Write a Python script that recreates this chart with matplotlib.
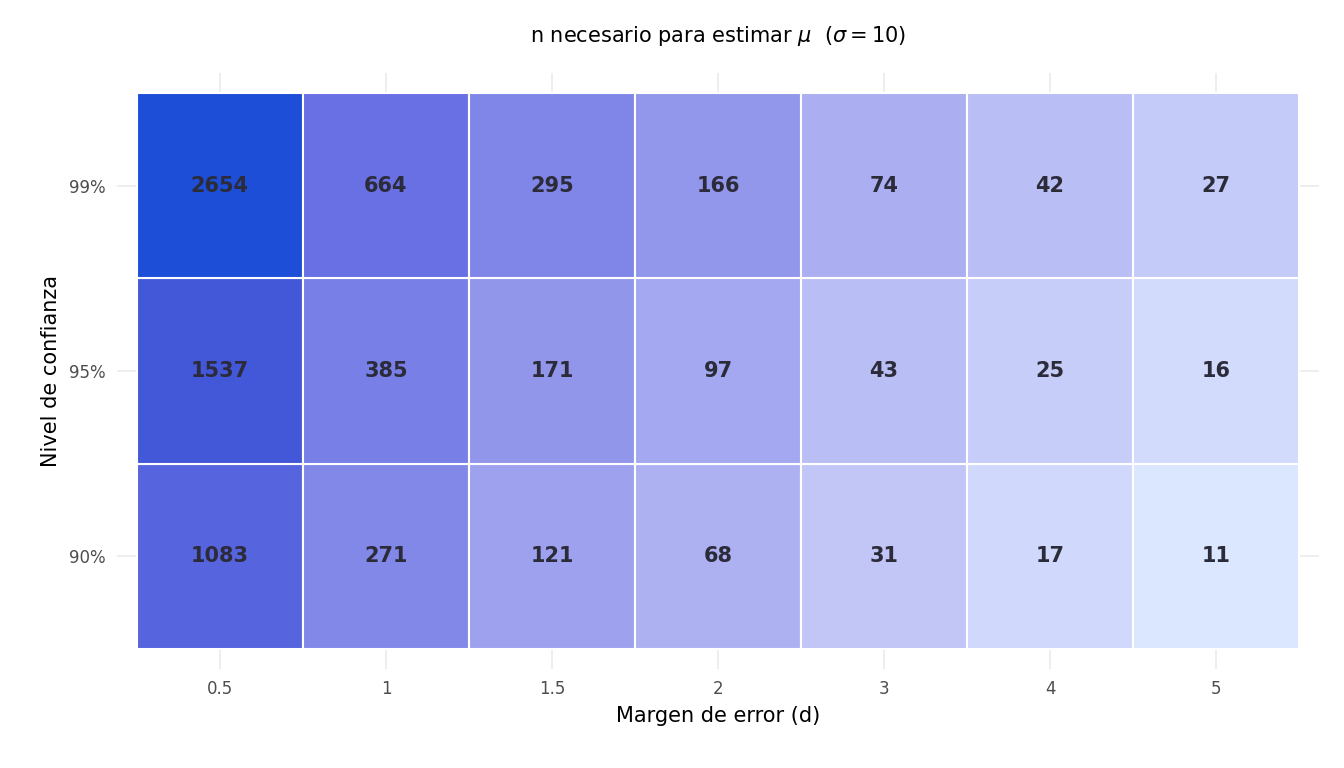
import numpy as np
import matplotlib.pyplot as plt
from matplotlib.colors import LinearSegmentedColormap, LogNorm

margins = ["0.5", "1", "1.5", "2", "3", "4", "5"]
levels = ["90%", "95%", "99%"]
n_90 = [1083, 271, 121, 68, 31, 17, 11]
n_95 = [1537, 385, 171, 97, 43, 25, 16]
n_99 = [2654, 664, 295, 166, 74, 42, 27]

values = np.array([n_90, n_95, n_99])

cmap = LinearSegmentedColormap.from_list("azul", [
    (0.0, "#dbe7ff"), (0.19, "#c1c6f7"), (0.40, "#a3a7f0"), (0.58, "#8389e8"),
    (0.75, "#6870e4"), (0.84, "#5664de"), (0.90, "#4458d9"), (1.0, "#1d4ed8")])
norm = LogNorm(vmin=values.min(), vmax=values.max())

fig = plt.figure(figsize=(13.44, 7.68), dpi=100)
ax = fig.add_axes([117 / 1344, 1 - 669 / 768, 1202 / 1344, 596 / 768])

for i, row in enumerate(values):
    for j, v in enumerate(row):
        ax.add_patch(plt.Rectangle((j - 0.5, i - 0.5), 1, 1, facecolor=cmap(norm(v)),
                                   edgecolor="white", linewidth=1.5, zorder=2))
        ax.text(j, i, str(v), ha="center", va="center", fontsize=15,
                fontweight="bold", color="#2b2b3a", zorder=3)

ax.set_xlim(-0.62, 6.62)
ax.set_ylim(-0.61, 2.61)
ax.set_xticks(range(len(margins)), margins)
ax.set_yticks(range(len(levels)), levels)
ax.grid(True, color="#ebebeb", linewidth=1.2, zorder=0)
ax.set_axisbelow(True)
for s in ax.spines.values():
    s.set_visible(False)
ax.tick_params(length=0, labelsize=12, labelcolor="#4d4d4d", pad=8)
ax.set_xlabel("Margen de error (d)", fontsize=15, labelpad=6)
ax.set_ylabel("Nivel de confianza", fontsize=15, labelpad=6)
ax.set_title(r"n necesario para estimar $\mu$  ($\sigma = 10$)", fontsize=15, pad=22)

fig.savefig("out.png", dpi=100)
